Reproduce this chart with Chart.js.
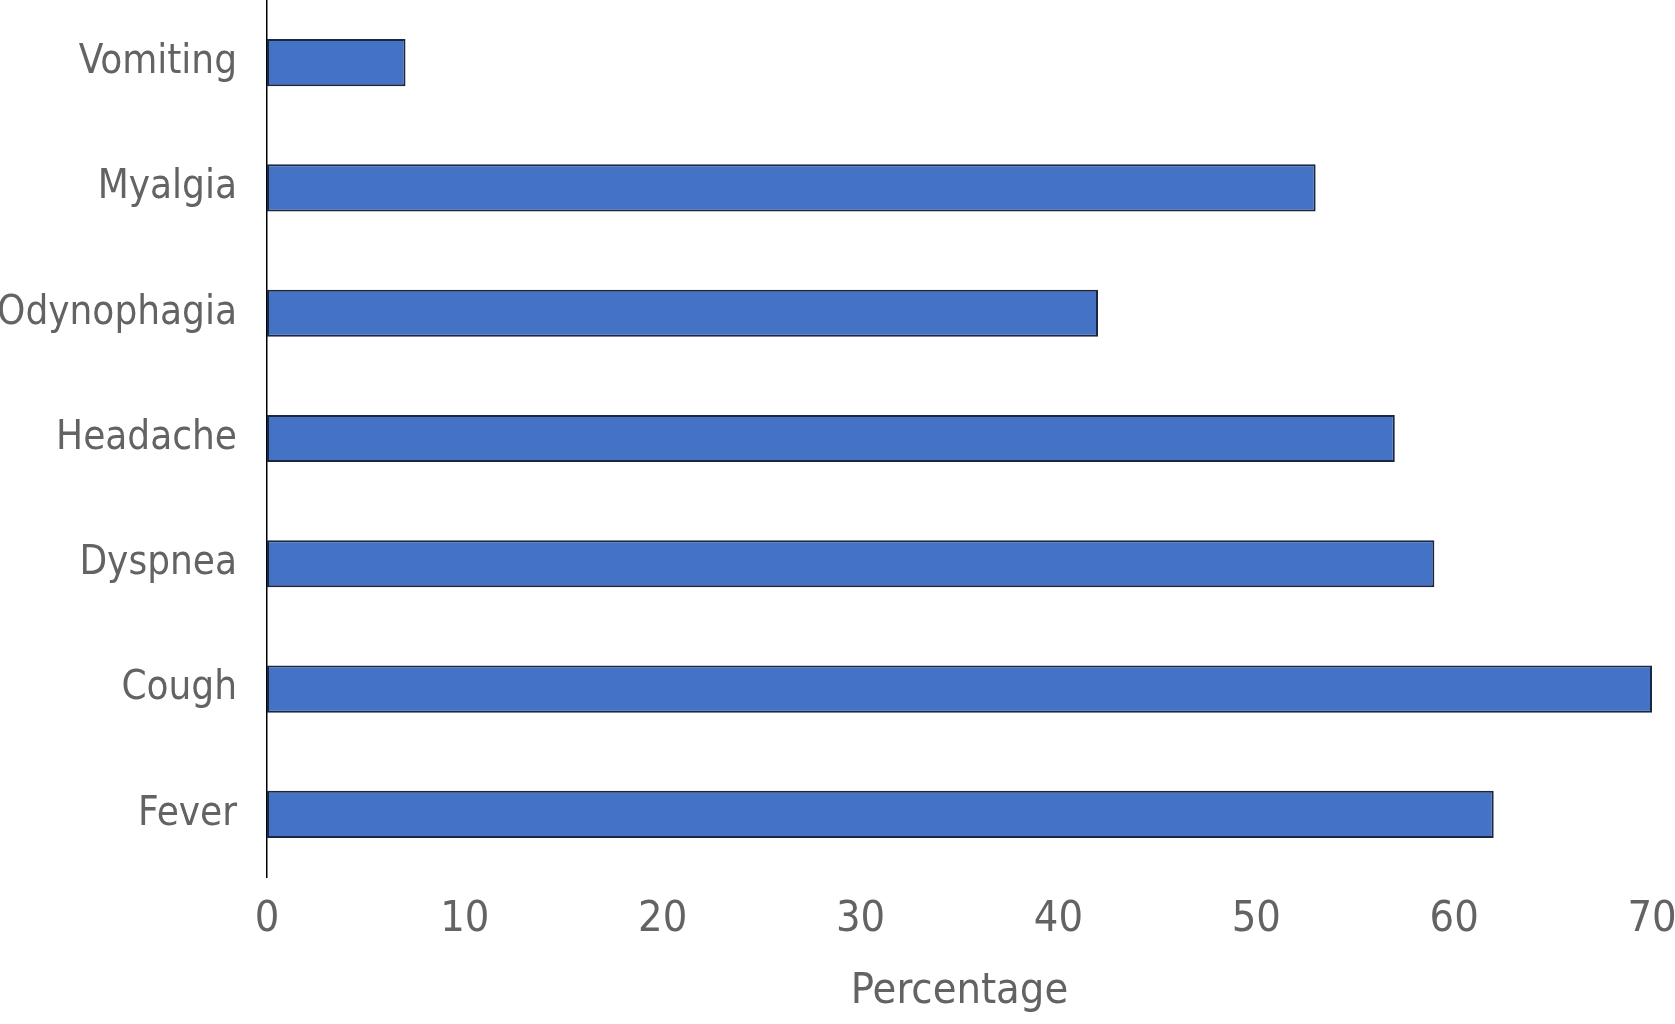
<!DOCTYPE html>
<html>
<head>
<meta charset="utf-8">
<script src="https://cdn.jsdelivr.net/npm/chart.js@4/dist/chart.umd.min.js"></script>
<style>
  html, body { margin: 0; padding: 0; background: #fff; overflow: hidden; }
  .wrap { width: 1675px; height: 1024px; position: relative; }
</style>
</head>
<body>
<div class="wrap"><canvas class="symptom-chart"></canvas></div>
<script>
const symptoms = ['Vomiting', 'Myalgia', 'Odynophagia', 'Headache', 'Dyspnea', 'Cough', 'Fever'];
const percentages = [7, 53, 42, 57, 59, 70, 62];
const xTicks = [0, 10, 20, 30, 40, 50, 60, 70];

const ctx = document.querySelector('.symptom-chart');
const fontFamily = "'Liberation Sans Narrow', 'Arial Narrow', 'DejaVu Sans Condensed', sans-serif";
const grey = '#636363';

new Chart(ctx, {
    type: 'bar',
    data: {
        labels: symptoms,
        datasets: [{
            label: 'Percentage',
            data: percentages,
            backgroundColor: '#4472c4',
            borderColor: '#1b2640',
            borderWidth: 2,
            borderSkipped: false,
            categoryPercentage: 1,
            barPercentage: 0.376
        }]
    },
    options: {
        indexAxis: 'y',
        responsive: true,
        maintainAspectRatio: false,
        animation: false,
        layout: {
            autoPadding: false,
            padding: { top: 0, right: 23, bottom: 0, left: 0 }
        },
        scales: {
            x: {
                min: 0,
                max: 70,
                afterBuildTicks: (scale) => {
                    scale.ticks = xTicks.map(v => ({ value: v }));
                },
                afterFit: (scale) => {
                    scale.height = 147;
                    // let the last tick label run off the edge like the original
                    scale.paddingLeft = 0;
                    scale.paddingRight = 0;
                },
                border: { display: false },
                grid: { display: false, drawTicks: false },
                ticks: {
                    color: grey,
                    font: { family: fontFamily, size: 43 },
                    padding: 17,
                    maxRotation: 0
                },
                title: {
                    display: true,
                    text: 'Percentage',
                    color: grey,
                    font: { family: fontFamily, size: 43 },
                    padding: { top: 16, bottom: 6 }
                }
            },
            y: {
                afterFit: (scale) => {
                    scale.width = 267;
                    scale.paddingTop = 0;
                    scale.paddingBottom = 0;
                },
                border: {
                    display: true,
                    color: '#000',
                    width: 1.5
                },
                grid: { display: false, drawTicks: false },
                ticks: {
                    color: grey,
                    font: { family: fontFamily, size: 40 },
                    padding: 30
                }
            }
        },
        plugins: {
            legend: { display: false },
            tooltip: { enabled: false }
        }
    }
});
</script>
</body>
</html>
